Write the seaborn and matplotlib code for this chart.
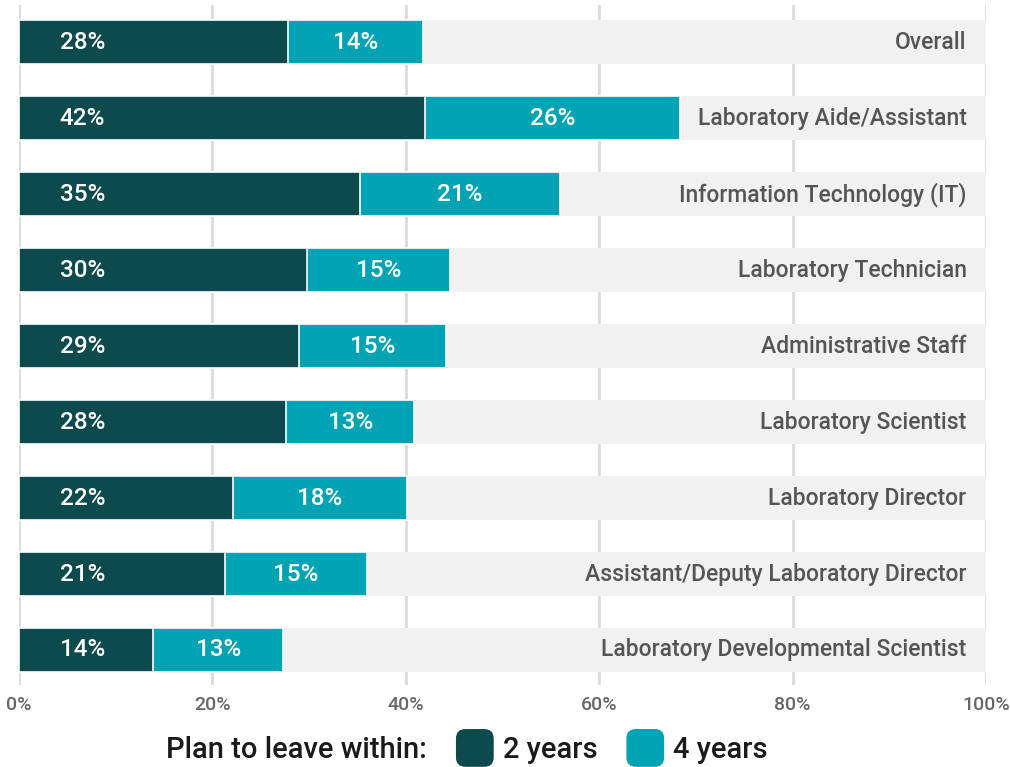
import numpy as np
import pandas as pd
import matplotlib
matplotlib.use("Agg")
import matplotlib.pyplot as plt
import matplotlib.patches as mpatches
from matplotlib.legend_handler import HandlerPatch
import seaborn as sns

roles = [
    "Overall",
    "Laboratory Aide/Assistant",
    "Information Technology (IT)",
    "Laboratory Technician",
    "Administrative Staff",
    "Laboratory Scientist",
    "Laboratory Director",
    "Assistant/Deputy Laboratory Director",
    "Laboratory Developmental Scientist",
]
two_years = [27.8, 42.0, 35.3, 29.8, 29.0, 27.6, 22.1, 21.3, 13.9]
four_years = [14.0, 26.4, 20.6, 14.8, 15.2, 13.3, 18.0, 14.7, 13.4]

DARK = "#0c4a4d"
TEAL = "#00a3b3"
BG = "#f1f1f1"
GRID = "#dadada"
FONT = ["Roboto", "DejaVu Sans"]

sns.set_style("white")
plt.rcParams["font.family"] = FONT
plt.rcParams["font.weight"] = "medium"

df = pd.DataFrame({"role": roles, "two": two_years, "four": four_years})
df["total"] = df["two"] + df["four"]
df["full"] = 100

fig = plt.figure(figsize=(10.10, 7.67), dpi=100)
ax = fig.add_axes([0.0188, 0.107, 0.9574, 0.8865])

bw = 0.58
sns.barplot(data=df, y="role", x="full", color=BG, width=bw, ax=ax,
            saturation=1, edgecolor="none", orient="h")
sns.barplot(data=df, y="role", x="total", color=TEAL, width=bw, ax=ax,
            saturation=1, edgecolor="white", linewidth=1.2, orient="h")
sns.barplot(data=df, y="role", x="two", color=DARK, width=bw, ax=ax,
            saturation=1, edgecolor="white", linewidth=1.2, orient="h")

for i, row in df.iterrows():
    ax.text(4.2, i, f"{row['two']:.0f}%", color="white", fontsize=17.5,
            ha="left", va="center")
    ax.text(row["two"] + row["four"] / 2, i, f"{row['four']:.0f}%",
            color="white", fontsize=17.5, ha="center", va="center")
    ax.text(98, i, row["role"], color="#555555", fontsize=16.5,
            ha="right", va="center")

ax.set_xlim(0, 100)
ax.set_ylim(8.46, -0.49)
ax.set_xticks(np.arange(0, 101, 20))
ax.set_xticklabels([f"{t}%" for t in range(0, 101, 20)])
ax.tick_params(axis="x", length=0, pad=8, labelsize=14, labelcolor="#666666")
ax.set_yticks([])
ax.set_xlabel("")
ax.set_ylabel("")
ax.set_axisbelow(True)
ax.grid(axis="x", color=GRID, linewidth=2)
for s in ax.spines.values():
    s.set_visible(False)


class RoundBox(HandlerPatch):
    def create_artists(self, legend, orig_handle, xdescent, ydescent,
                       width, height, fontsize, trans):
        side = height * 1.85
        p = mpatches.FancyBboxPatch(
            (-xdescent + (width - side) / 2, -ydescent + (height - side) / 2),
            side, side, boxstyle="round,pad=0,rounding_size=%f" % (side * 0.25),
            facecolor=orig_handle.get_facecolor(), edgecolor="none",
            transform=trans)
        return [p]


handles = [mpatches.Patch(color="none"),
           mpatches.Patch(facecolor=DARK),
           mpatches.Patch(facecolor=TEAL)]
labels = ["Plan to leave within:", "2 years", "4 years"]
leg = fig.legend(handles, labels, loc="center", bbox_to_anchor=(0.439, 0.022),
                 ncol=3, frameon=False, fontsize=21, handlelength=1.3,
                 handletextpad=0.3, columnspacing=1.0,
                 handler_map={mpatches.Patch: RoundBox()})
for t in leg.get_texts():
    t.set_color("#1a1a1a")

fig.savefig("out.png", dpi=100)
